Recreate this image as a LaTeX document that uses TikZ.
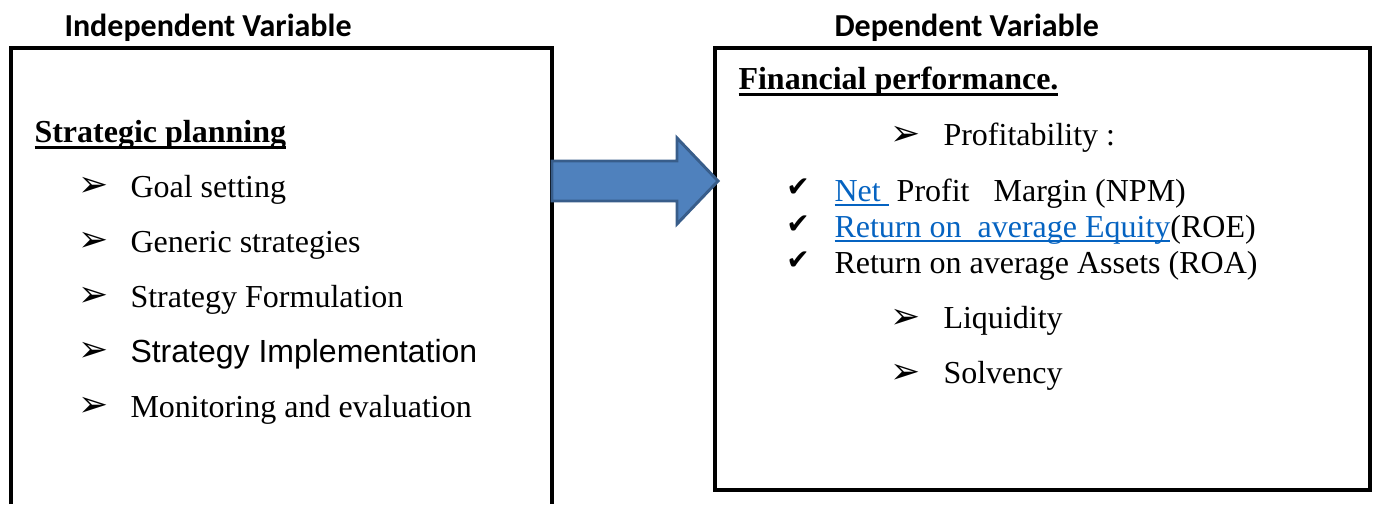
\documentclass[tikz,border=0pt]{standalone}
\usepackage{fontspec}
\setmainfont{Liberation Serif}
\newfontfamily\headfont{Carlito}
\newfontfamily\arialfont{Liberation Sans}
\newfontfamily\dingfont{DejaVu Sans}

\definecolor{linkblue}{RGB}{5,99,193}
\definecolor{arrowfill}{RGB}{79,129,189}
\definecolor{arrowline}{RGB}{56,93,138}

% underline: depth, thickness, text
\newcommand{\ulbox}[3]{\setbox0=\hbox{#3}\rlap{\rule[-#1]{\wd0}{#2}}\box0}
\newcommand{\titleul}[1]{\ulbox{5.5pt}{2.2pt}{\bfseries #1}}
\newcommand{\linkul}[1]{{\color{linkblue}\ulbox{3.8pt}{1.2pt}{#1}}}
\newcommand{\arrbul}{{\dingfont\fontsize{27}{27}\selectfont ➢}}
\newcommand{\chkbul}{{\dingfont\fontsize{21}{21}\selectfont ✔}}

\tikzset{every picture/.style={line width=0.75pt}}
\tikzset{txt/.style={anchor=base west, inner sep=0.75pt, font=\fontsize{24}{28}\selectfont},
         bul/.style={anchor=center, inner sep=0pt}}

\begin{document}
\begin{tikzpicture}[x=0.75pt,y=0.75pt,yscale=-1,xscale=1]
\useasboundingbox (0,0) rectangle (1377,504);

%Shape: Rectangle (open at the bottom edge)
\draw [line width=3.4] (11,504) -- (11,48) -- (552,48) -- (552,504) ;
%Shape: Rectangle
\draw [line width=3.4] (715,48) -- (1370,48) -- (1370,490) -- (715,490) -- cycle ;
%Shape: Right Arrow
\draw [color=arrowline, fill=arrowfill, line width=2.2, line join=miter] (552,161) -- (677,161) -- (677,138) -- (718,181) -- (677,224) -- (677,201) -- (552,201) -- cycle ;

% Text Node
\draw (63,36) node [txt, font=\headfont\bfseries\fontsize{24}{28}\selectfont] (indep) {Independent Variable};
% Text Node
\draw (833,36) node [txt, font=\headfont\bfseries\fontsize{24}{28}\selectfont] (dep) {Dependent Variable};

% Text Node
\draw (33,142) node [txt] (strat) {\titleul{Strategic planning}};
% Text Node
\draw (94,187) node [bul] (b1) {\arrbul};
\draw (129,197) node [txt] (goal) {Goal setting};
% Text Node
\draw (94,242) node [bul] (b2) {\arrbul};
\draw (129,252) node [txt] (generic) {Generic strategies};
% Text Node
\draw (94,297) node [bul] (b3) {\arrbul};
\draw (129,307) node [txt] (formul) {Strategy Formulation};
% Text Node
\draw (94,352) node [bul] (b4) {\arrbul};
\draw (129,362) node [txt, font=\arialfont\fontsize{24}{28}\selectfont] (implem) {Strategy Implementation};
% Text Node
\draw (94,407) node [bul] (b5) {\arrbul};
\draw (129,417) node [txt] (monit) {Monitoring and evaluation};

% Text Node
\draw (737,89) node [txt] (finperf) {\titleul{Financial performance.}};
% Text Node
\draw (906,136) node [bul] (b6) {\arrbul};
\draw (942,145) node [txt] (profit) {Profitability :};
% Text Node
\draw (798,188) node [bul] (c1) {\chkbul};
\draw (833,201) node [txt] (npm) {\linkul{Net\ }\ Profit\ \ \ Margin (NPM)};
% Text Node
\draw (798,225) node [bul] (c2) {\chkbul};
\draw (833,237) node [txt] (roe) {\linkul{Return on\ \ average Equity}(ROE)};
% Text Node
\draw (798,261) node [bul] (c3) {\chkbul};
\draw (833,273) node [txt] (roa) {Return on average Assets (ROA)};
% Text Node
\draw (906,319) node [bul] (b7) {\arrbul};
\draw (942,328) node [txt] (liquid) {Liquidity};
% Text Node
\draw (906,374) node [bul] (b8) {\arrbul};
\draw (942,383) node [txt] (solv) {Solvency};

\end{tikzpicture}
\end{document}
